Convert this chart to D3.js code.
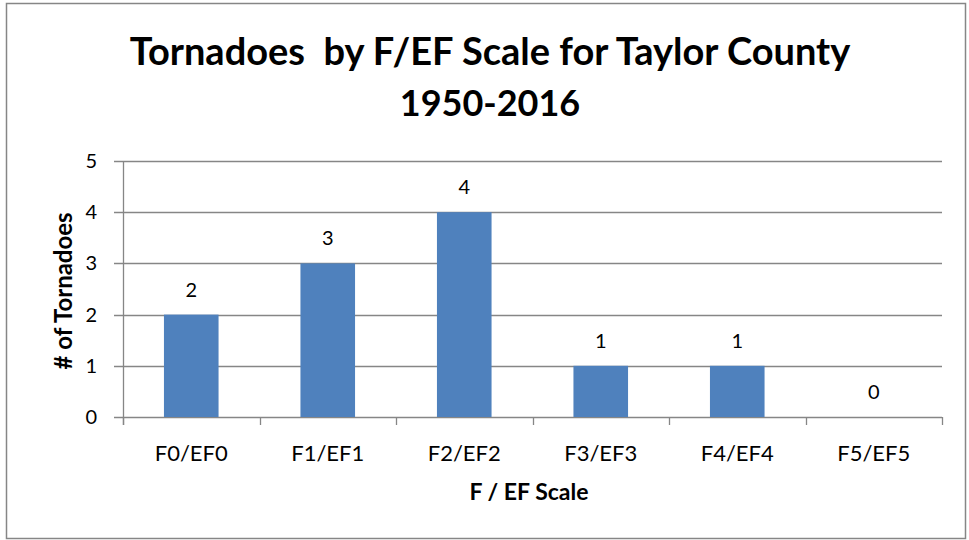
<!DOCTYPE html>
<html>
<head>
<meta charset="utf-8">
<script src="https://cdn.jsdelivr.net/npm/d3@7"></script>
<style>
  body { margin: 0; background: #fff; }
  svg text { font-family: Lato, "Open Sans", sans-serif; fill: #000; white-space: pre; }
  .grid line { stroke: #868686; stroke-width: 1.3; }
  .axis path, .axis line { stroke: #868686; stroke-width: 1.3; }
</style>
</head>
<body>
<svg width="969" height="540"></svg>
<script>
// chart data
let categories = ["F0/EF0", "F1/EF1", "F2/EF2", "F3/EF3", "F4/EF4", "F5/EF5"];
let counts = [2, 3, 4, 1, 1, 0];
let yTicks = [0, 1, 2, 3, 4, 5];
let titleLines = ["Tornadoes  by F/EF Scale for Taylor County", "1950-2016"];

let svg = d3.select("svg");

// outer chart border
svg.append("rect")
    .attr("x", 6.5).attr("y", 3.5)
    .attr("width", 959).attr("height", 535)
    .attr("fill", "#fff")
    .attr("stroke", "#868686")
    .attr("stroke-width", 1.5);

let margin = {top: 161, right: 27, bottom: 123, left: 123};
let width = 969 - margin.left - margin.right;
let height = 540 - margin.top - margin.bottom;

let g = svg.append("g")
    .attr("transform", "translate(" + margin.left + "," + margin.top + ")");

let xScale = d3.scaleBand()
    .domain(categories)
    .range([0, width])
    .paddingInner(0.6)
    .paddingOuter(0.3);

let yScale = d3.scaleLinear()
    .domain([0, 5])
    .range([height, 0]);

// horizontal gridlines, sticking out left like tick marks
g.append("g")
    .attr("class", "grid")
    .selectAll("line")
    .data(yTicks)
    .enter().append("line")
    .attr("x1", -9)
    .attr("x2", width)
    .attr("y1", function(d){ return Math.round(yScale(d)) + 0.5; })
    .attr("y2", function(d){ return Math.round(yScale(d)) + 0.5; });

// y tick labels
g.append("g")
    .selectAll("text")
    .data(yTicks)
    .enter().append("text")
    .attr("x", -26)
    .attr("y", function(d){ return yScale(d); })
    .attr("dy", "0.35em")
    .attr("text-anchor", "end")
    .style("font-size", "20px")
    .text(function(d){ return d; });

// bars
g.selectAll(".bar")
    .data(counts)
    .enter().append("rect")
    .attr("class", "bar")
    .attr("x", function(d, i){ return xScale(categories[i]); })
    .attr("width", xScale.bandwidth())
    .attr("y", function(d){ return yScale(d); })
    .attr("height", function(d){ return height - yScale(d); })
    .attr("fill", "#4F81BD");

// value labels
g.selectAll(".val")
    .data(counts)
    .enter().append("text")
    .attr("class", "val")
    .attr("x", function(d, i){ return xScale(categories[i]) + xScale.bandwidth() / 2; })
    .attr("y", function(d){ return yScale(d) - 18; })
    .attr("text-anchor", "middle")
    .style("font-size", "20px")
    .text(function(d){ return d; });

// y axis line
g.append("line")
    .attr("x1", 0.5).attr("x2", 0.5)
    .attr("y1", 0).attr("y2", height + 8)
    .attr("stroke", "#868686")
    .attr("stroke-width", 1.3);

// x axis with category boundary ticks
let step = xScale.step();
let boundaries = d3.range(categories.length + 1).map(function(i){
    return xScale.range()[0] + i * step;
});
g.append("g")
    .attr("class", "axis")
    .selectAll("line")
    .data(boundaries)
    .enter().append("line")
    .attr("x1", function(d){ return Math.round(d) + 0.5; })
    .attr("x2", function(d){ return Math.round(d) + 0.5; })
    .attr("y1", height)
    .attr("y2", height + 8);

g.append("g")
    .selectAll("text")
    .data(categories)
    .enter().append("text")
    .attr("x", function(d){ return xScale(d) + xScale.bandwidth() / 2; })
    .attr("y", height + 44)
    .attr("text-anchor", "middle")
    .style("font-size", "22px")
    .text(function(d){ return d; });

// axis titles
svg.append("text")
    .attr("x", 529)
    .attr("y", 500)
    .attr("text-anchor", "middle")
    .style("font-size", "23px")
    .style("font-weight", "bold")
    .text("F / EF Scale");

svg.append("text")
    .attr("transform", "translate(72,291) rotate(-90)")
    .attr("text-anchor", "middle")
    .style("font-size", "24px")
    .style("font-weight", "bold")
    .text("# of Tornadoes");

// chart title
svg.append("g")
    .selectAll("text")
    .data(titleLines)
    .enter().append("text")
    .attr("x", 490)
    .attr("y", function(d, i){ return 65 + i * 51; })
    .attr("text-anchor", "middle")
    .style("font-size", function(d, i){ return i === 0 ? "38px" : "36px"; })
    .style("font-weight", "bold")
    .text(function(d){ return d; });
</script>
</body>
</html>
